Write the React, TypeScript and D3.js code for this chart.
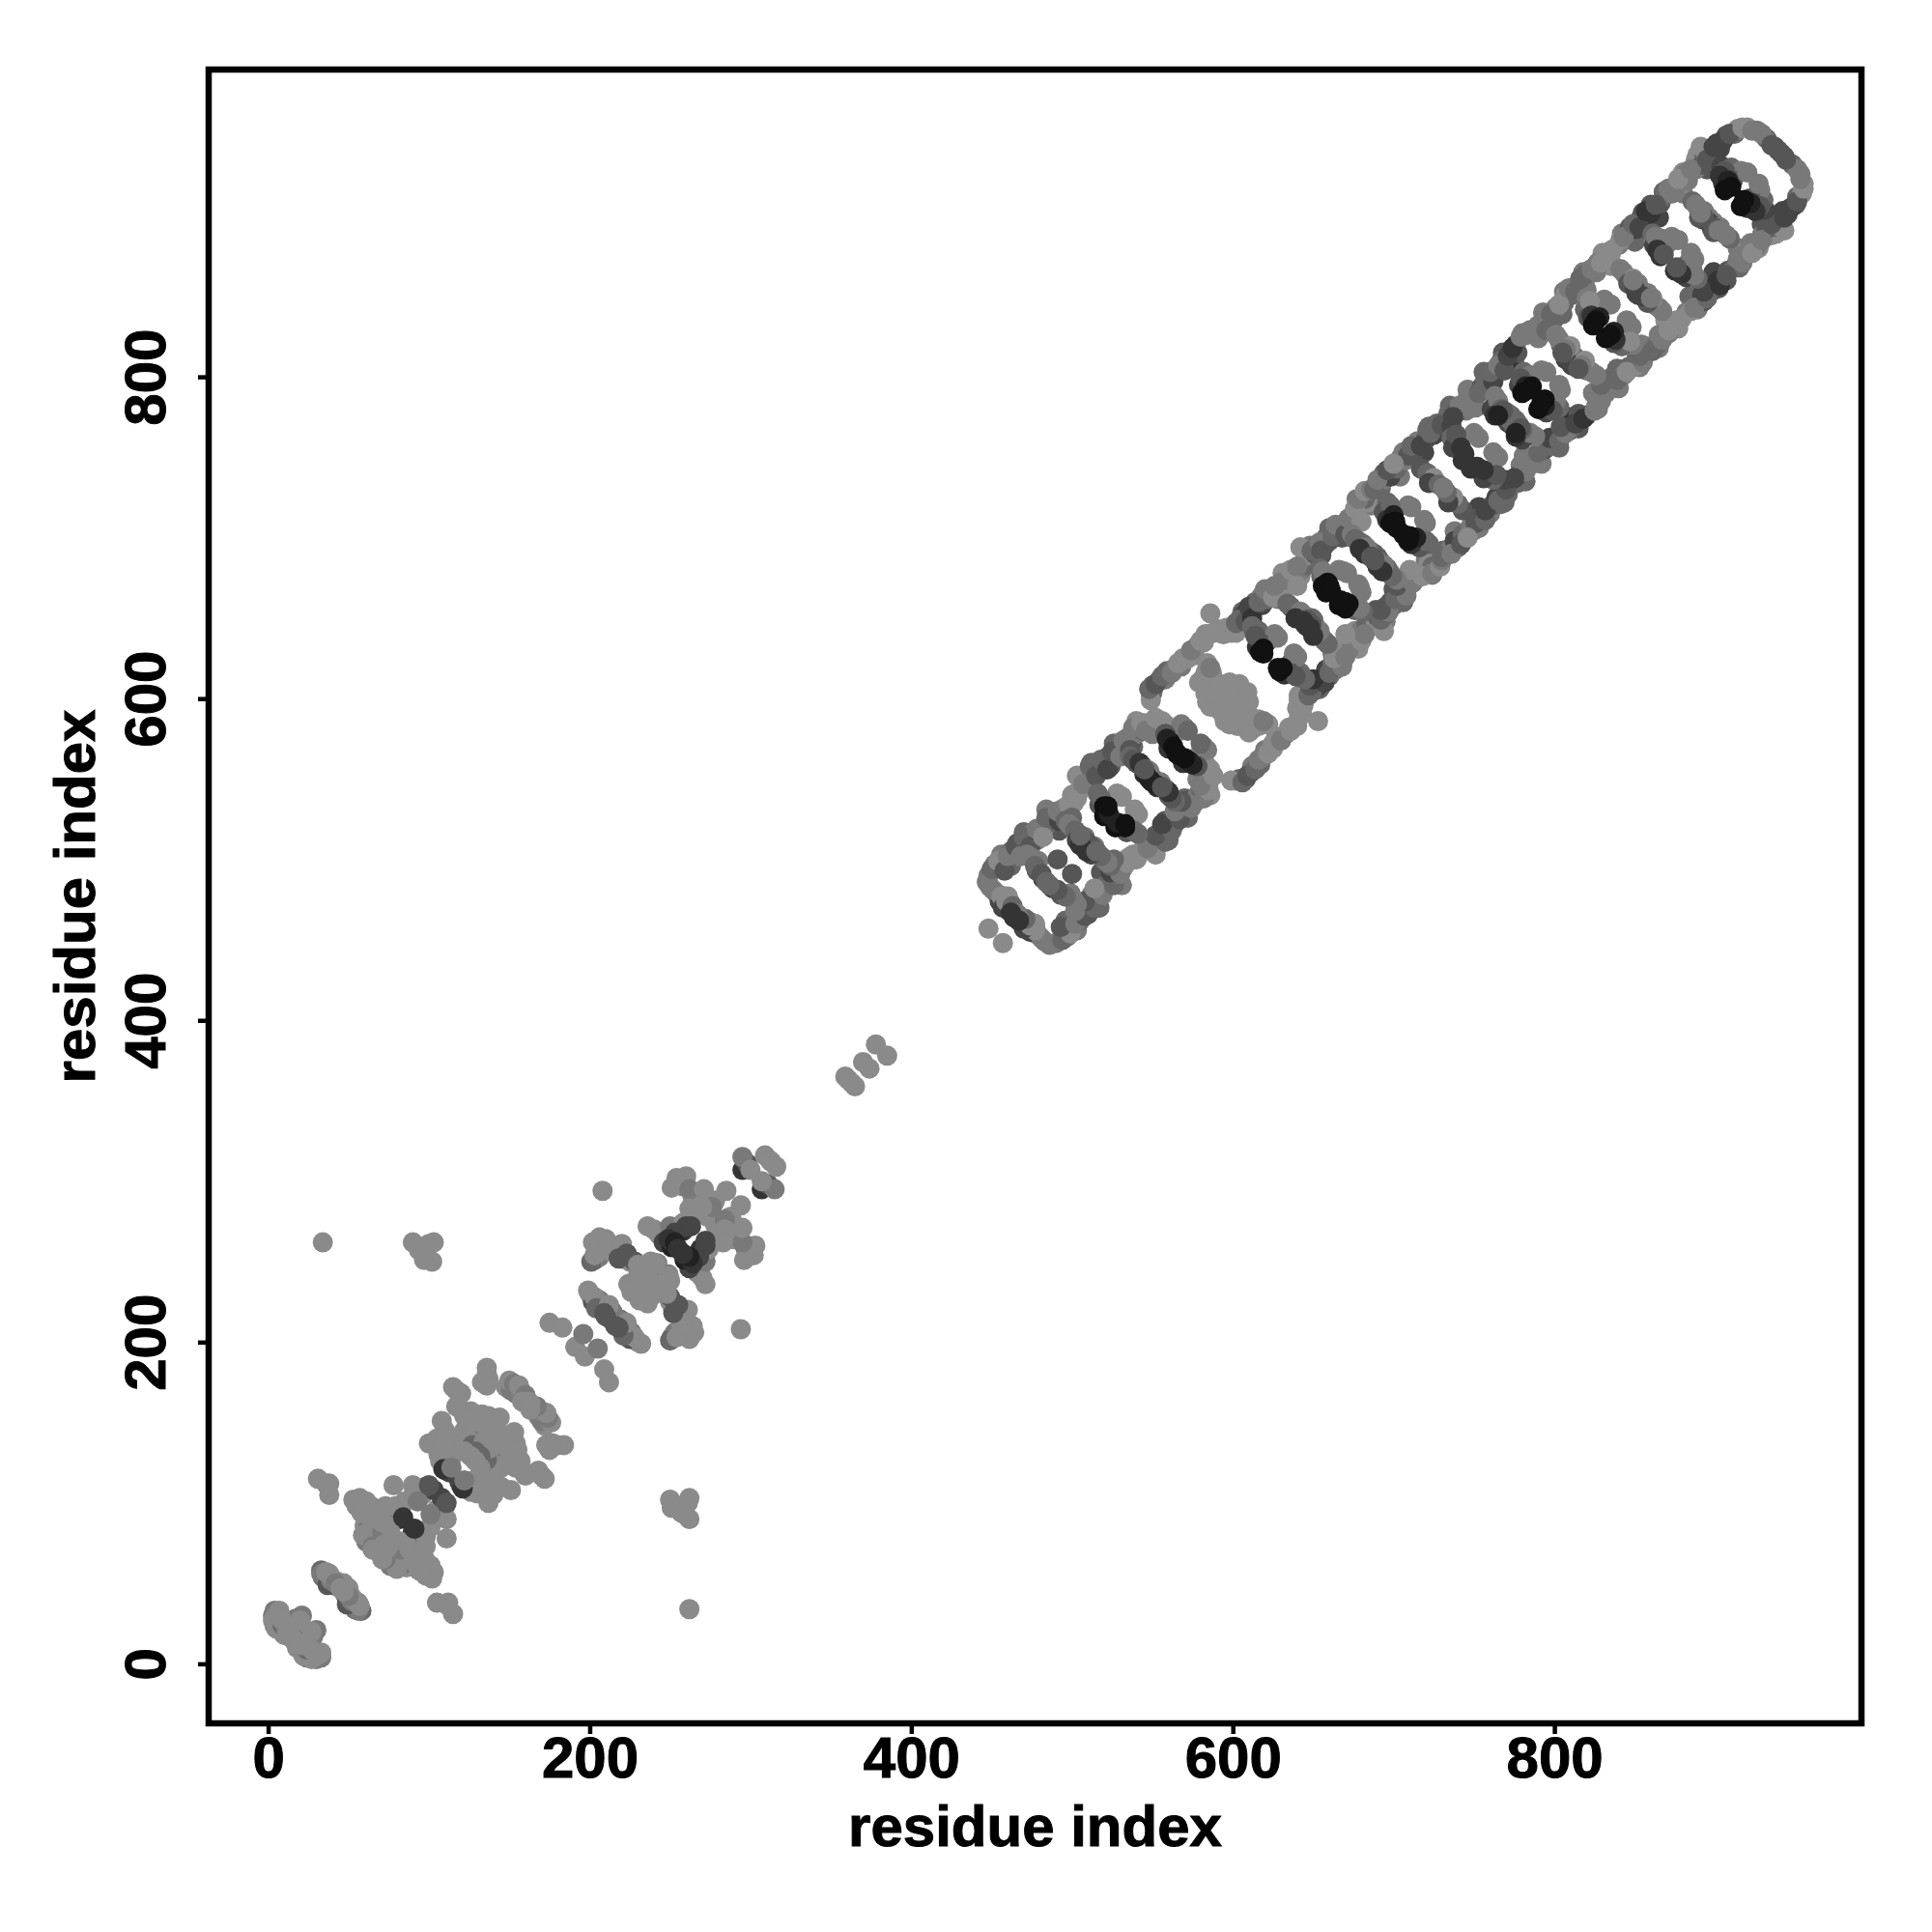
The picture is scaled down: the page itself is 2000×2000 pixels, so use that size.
import { useEffect, useRef } from 'react';
import * as d3 from 'd3';

// contacts as [residue i, residue j, level]; the map is symmetric so only j >= i is listed
type Contact = [number, number, number];

const xTicks = [0, 200, 400, 600, 800];
const yTicks = [0, 200, 400, 600, 800];
const axisTitle = 'residue index';

const nTerminal: Contact[] = [
  [6, 30, 1], [4, 24, 2], [7, 22, 3], [9, 20, 4], [10, 18, 1], [13, 17, 1], [17, 28, 2], [18, 24, 1], [16, 21, 1], [3, 30, 2],
  [35, 55, 2], [38, 52, 4], [34, 54, 3], [41, 49, 2], [43, 51, 1], [43, 48, 3], [47, 50, 1],
  [4, 33, 2], [7, 33, 1], [5, 30, 1], [3, 27, 1], [6, 25, 1], [5, 22, 1], [9, 24, 3], [11, 22, 2],
  [14, 19, 3], [15, 16, 1], [21, 30, 2], [20, 27, 1], [12, 20, 1], [8, 28, 1],
  [33, 58, 3], [33, 56, 2], [37, 49, 4], [39, 52, 2], [36, 57, 1], [38, 56, 1], [40, 53, 1], [42, 50, 2], [45, 47, 1],
];

const firstDomain: Contact[] = [
  [55, 98, 1], [60, 97, 1], [62, 94, 1], [60, 86, 1], [62, 84, 2], [66, 82, 2], [61, 76, 2], [68, 76, 3], [69, 79, 2],
  [70, 72, 3], [68, 70, 2], [74, 91, 1], [78, 94, 1], [76, 90, 1], [72, 93, 1], [82, 96, 1], [88, 102, 2], [82, 90, 6],
  [96, 105, 1], [103, 108, 5], [98, 110, 4], [76, 82, 1], [76, 80, 1],
  [53, 102, 1], [57, 103, 1], [61, 101, 1], [64, 98, 1], [58, 94, 1], [64, 90, 1], [59, 80, 1], [63, 80, 1],
  [67, 86, 1], [65, 73, 2], [65, 71, 1], [71, 82, 2], [71, 88, 1], [72, 74, 1], [75, 86, 1], [75, 76, 1],
  [73, 98, 1], [79, 98, 1], [78, 111, 1], [90, 111, 1], [85, 101, 1], [93, 101, 2], [100, 111, 4], [84, 91, 6],
  [31, 115, 1], [38, 112, 1], [36, 112, 1], [38, 105, 1],
];

const secondDomain: Contact[] = [
  [110, 145, 1], [105, 140, 1], [112, 133, 1], [106, 130, 1], [110, 124, 3], [113, 125, 4], [118, 134, 1], [120, 140, 1],
  [122, 145, 1], [128, 145, 1], [131, 150, 1], [117, 160, 1], [122, 154, 1], [131, 142, 1], [140, 148, 1], [143, 144, 1],
  [128, 132, 3], [130, 138, 2], [136, 140, 1], [148, 172, 1], [151, 170, 2], [154, 168, 2], [157, 170, 1], [158, 165, 2],
  [133, 175, 1], [137, 177, 1], [117, 170, 1], [128, 155, 1], [133, 155, 1], [139, 135, 1], [124, 133, 4], [129, 127, 3],
  [136, 184, 1], [136, 180, 1], [135, 176, 1], [136, 173, 1], [115, 172, 1], [120, 168, 1], [120, 158, 1], [126, 157, 1],
  [127, 152, 1], [137, 154, 1], [144, 153, 1], [137, 146, 1], [150, 176, 1], [153, 174, 2], [156, 173, 1], [160, 167, 2],
  [158, 163, 1], [162, 163, 1], [108, 151, 1], [111, 142, 1], [100, 137, 1], [109, 136, 1], [114, 128, 1], [107, 126, 1],
  [111, 120, 6], [113, 119, 5], [109, 121, 6], [114, 122, 2], [122, 137, 1], [124, 140, 1], [127, 136, 3], [134, 138, 1],
  [132, 129, 3], [122, 132, 1], [126, 129, 1],
];

const thirdDomain: Contact[] = [
  [200, 230, 1], [202, 225, 4], [206, 226, 2], [207, 220, 4], [205, 222, 4], [214, 219, 3], [212, 215, 5], [218, 214, 2],
  [202, 262, 1], [203, 251, 3], [206, 253, 2], [208, 258, 1], [214, 257, 2], [217, 255, 4], [220, 252, 5], [225, 250, 1],
  [232, 245, 1], [236, 243, 1], [240, 245, 1], [224, 236, 1], [229, 234, 1], [233, 230, 1], [236, 228, 1], [241, 238, 1], [246, 230, 1],
  [256, 299, 1], [253, 298, 1], [258, 297, 2], [264, 290, 1], [268, 288, 1], [272, 290, 1], [278, 288, 1], [277, 286, 1],
  [273, 278, 1], [266, 280, 1], [240, 270, 1], [246, 268, 2],
  [175, 212, 1], [183, 209, 1], [191, 197, 1], [196, 205, 2], [199, 232, 1], [203, 228, 1], [204, 221, 3], [212, 223, 1],
  [209, 218, 4], [216, 210, 4], [206, 265, 1], [210, 264, 1], [201, 250, 3], [203, 254, 1], [211, 257, 1], [220, 261, 1],
  [223, 255, 4], [218, 252, 4], [228, 250, 4], [230, 248, 1], [238, 250, 1], [242, 249, 2], [249, 241, 1], [228, 238, 1],
  [226, 232, 1], [231, 226, 1], [238, 232, 1], [245, 234, 1], [208, 294, 1],
  [254, 302, 1], [260, 303, 1], [251, 296, 1], [262, 295, 2], [271, 295, 1], [276, 284, 2], [285, 294, 1], [270, 284, 1],
  [262, 283, 1], [236, 272, 1], [243, 267, 1], [250, 272, 2], [258, 274, 1],
  [246, 262, 5], [251, 259, 7], [258, 269, 6], [260, 272, 5], [253, 268, 5], [249, 264, 6], [253, 262, 7], [263, 272, 5],
  [255, 258, 6], [295, 307, 6], [298, 311, 4], [295, 315, 2], [300, 307, 1], [309, 316, 1], [312, 313, 1],
  [34, 262, 1], [90, 262, 1], [93, 259, 1], [94, 257, 1], [100, 261, 1], [103, 262, 1], [98, 255, 1], [97, 251, 1], [102, 250, 1],
  [359, 365, 1], [361, 363, 1], [370, 374, 1], [378, 385, 1],
];

// outer and inner edges of the two long rails
const railEdges: Contact[] = [
  [456, 503, 2], [470, 517, 3], [484, 531, 2], [500, 540, 1], [512, 560, 3], [526, 572, 3], [540, 586, 1],
  [462, 496, 3], [478, 512, 2], [492, 518, 4], [510, 546, 3], [524, 558, 4], [538, 570, 3], [550, 578, 2],
  [606, 654, 3], [620, 667, 2], [631, 678, 1], [648, 695, 2], [660, 706, 3], [677, 724, 2], [694, 740, 3], [706, 753, 2],
  [722, 769, 3], [735, 782, 3], [746, 792, 2], [756, 803, 3], [768, 815, 4], [780, 827, 2], [793, 840, 2], [806, 853, 2],
  [818, 865, 2], [830, 877, 1], [842, 889, 2], [855, 902, 4], [868, 915, 3], [880, 927, 1], [888, 935, 1],
  [612, 646, 4], [628, 662, 2], [642, 676, 1], [655, 689, 4], [672, 706, 3], [686, 720, 2], [704, 738, 2], [719, 753, 5],
  [732, 766, 5], [745, 779, 2], [760, 794, 5], [775, 809, 4], [790, 824, 2], [805, 839, 3], [820, 854, 2], [835, 869, 1],
  [850, 884, 3], [865, 899, 5], [880, 914, 2], [895, 929, 4],
];

const railLower: Contact[] = [
  [448, 490, 2], [452, 497, 2], [456, 496, 3], [458, 500, 1], [462, 505, 3], [464, 503, 4], [466, 510, 4], [468, 507, 5],
  [472, 510, 3], [475, 516, 2], [476, 513, 2], [480, 517, 1], [483, 520, 2], [486, 523, 3], [488, 528, 2], [490, 526, 4],
  [494, 527, 4], [495, 532, 1], [497, 529, 3], [501, 535, 1], [503, 538, 1], [505, 543, 1], [506, 549, 2], [509, 551, 3],
  [510, 554, 2], [513, 555, 4], [514, 559, 3], [517, 558, 5], [520, 560, 4], [521, 563, 4], [523, 561, 5], [527, 563, 3],
  [528, 568, 3], [531, 567, 3], [534, 571, 3], [535, 576, 2], [537, 573, 4], [540, 578, 2], [541, 583, 1], [544, 580, 3],
  [548, 585, 1], [550, 583, 2], [554, 583, 1], [558, 584, 1],
  [449, 483, 2], [453, 479, 2], [455, 474, 5], [458, 477, 3], [461, 474, 3], [461, 468, 5], [464, 468, 4], [464, 464, 6],
  [448, 457, 1], [447, 486, 2], [451, 481, 2], [456, 477, 1], [457, 470, 5], [459, 474, 1], [460, 477, 1], [463, 471, 3],
  [466, 466, 2], [467, 462, 6],
  [450, 494, 3], [454, 499, 1], [458, 493, 4], [460, 502, 2], [465, 508, 4], [468, 502, 2], [470, 514, 3], [474, 508, 4],
  [478, 519, 2], [482, 514, 1], [484, 526, 3], [492, 524, 5], [491, 530, 2], [498, 534, 1], [500, 526, 3], [502, 541, 1],
  [503, 552, 1], [507, 547, 2], [511, 558, 3], [515, 552, 4], [518, 562, 3], [522, 556, 5], [525, 567, 4], [530, 564, 2],
  [532, 574, 2], [536, 568, 4], [538, 582, 2], [543, 585, 1], [546, 580, 2], [552, 588, 1], [556, 586, 1], [560, 582, 1], [564, 578, 1],
];

const rungsLower: Contact[] = [
  [472, 503, 2], [476, 499, 3], [479, 499, 2], [478, 493, 4], [482, 488, 5],
  [475, 501, 2], [477, 496, 3], [481, 491, 4], [484, 486, 3], [491, 500, 4],
  [496, 524, 3], [500, 520, 2], [504, 516, 3], [506, 511, 5], [508, 514, 2], [510, 506, 6], [507, 508, 5], [513, 507, 4], [512, 505, 5],
  [498, 522, 2], [502, 518, 3], [505, 515, 2], [503, 512, 5], [511, 509, 4], [509, 505, 6], [515, 505, 3],
  [517, 534, 4], [516, 541, 3], [528, 541, 1], [518, 538, 3], [531, 539, 1],
  [522, 531, 8], [520, 527, 8], [520, 533, 8], [521, 529, 8], [523, 528, 7], [522, 533, 8],
  [536, 564, 3], [540, 560, 4], [544, 558, 3], [545, 553, 6], [548, 554, 3], [550, 548, 6], [552, 549, 3], [555, 548, 2],
  [538, 562, 4], [542, 560, 6], [546, 556, 2], [549, 549, 7], [553, 546, 7], [556, 545, 4],
  [570, 582, 3], [568, 584, 2], [572, 580, 3], [558, 578, 4], [560, 569, 6], [561, 573, 8], [559, 575, 7], [563, 570, 8], [565, 566, 8],
];

const hinge: Contact[] = [
  [549, 602, 1], [550, 604, 3], [550, 608, 4], [554, 611, 4], [558, 612, 2], [559, 617, 3], [564, 619, 2], [568, 620, 2],
  [569, 625, 1], [576, 627, 2], [578, 633, 1], [582, 635, 1], [583, 640, 1], [588, 641, 1], [591, 643, 1], [594, 640, 1],
  [599, 641, 1], [579, 610, 1], [585, 612, 2], [587, 616, 1], [584, 622, 1],
  [583, 603, 1], [588, 598, 1], [592, 602, 1], [590, 610, 1], [600, 603, 1], [597, 600, 1], [590, 594, 1], [595, 594, 1],
  [604, 609, 1], [598, 610, 1],
  [549, 599, 1], [548, 606, 3], [552, 609, 4], [556, 614, 3], [562, 616, 2], [566, 622, 1], [572, 625, 1], [574, 630, 2],
  [580, 636, 1], [585, 640, 1], [596, 644, 1], [602, 641, 1], [586, 653, 1], [581, 612, 1], [583, 616, 1], [586, 619, 2],
  [586, 602, 1], [591, 606, 1], [598, 608, 1], [586, 595, 1], [584, 598, 1], [594, 598, 1], [596, 604, 1], [589, 603, 1],
];

const railUpper: Contact[] = [
  [602, 647, 3], [606, 652, 4], [608, 653, 5], [611, 654, 6], [613, 656, 4], [614, 660, 3], [618, 658, 5], [618, 664, 2],
  [622, 662, 3], [623, 668, 1], [628, 666, 2], [630, 672, 2], [632, 669, 1], [636, 674, 2], [638, 677, 1], [638, 672, 1],
  [643, 680, 2], [645, 686, 2], [646, 683, 3], [647, 689, 1], [651, 690, 4], [652, 695, 3], [657, 695, 4], [658, 700, 3],
  [660, 698, 4], [664, 702, 5], [667, 706, 3], [668, 700, 4], [674, 708, 3], [675, 713, 2], [678, 715, 2], [684, 722, 1],
  [682, 724, 3], [692, 731, 3], [694, 736, 2], [698, 738, 5], [702, 743, 3], [704, 749, 2], [707, 748, 2], [709, 751, 4],
  [713, 754, 4], [715, 760, 2], [720, 761, 4], [721, 767, 3], [725, 764, 5], [727, 771, 3], [733, 770, 5], [734, 777, 3],
  [739, 778, 4], [741, 782, 2], [743, 781, 2], [748, 787, 2], [750, 785, 3], [755, 794, 4], [758, 795, 5], [757, 798, 3],
  [763, 801, 5], [767, 810, 3], [769, 808, 5], [773, 811, 6], [776, 820, 4], [777, 815, 4], [782, 826, 2], [788, 826, 2],
  [790, 832, 2], [794, 836, 2], [800, 836, 3], [801, 843, 2], [806, 846, 3], [807, 851, 1], [811, 851, 3], [815, 857, 2],
  [819, 857, 2], [820, 864, 3], [826, 865, 2], [827, 871, 2], [832, 875, 1], [835, 876, 1], [840, 882, 2], [841, 885, 1],
  [846, 889, 3], [847, 893, 4], [851, 892, 5], [854, 899, 4], [855, 896, 6], [860, 902, 6], [860, 907, 4], [866, 908, 4],
  [868, 912, 3], [873, 914, 2], [879, 920, 1], [881, 926, 2], [883, 922, 2], [888, 929, 2], [889, 938, 1], [892, 932, 4],
  [893, 939, 3], [897, 940, 5], [901, 945, 5], [903, 942, 5], [907, 950, 4], [912, 951, 3], [914, 954, 1], [920, 955, 1],
  [926, 953, 2], [932, 948, 3], [937, 943, 4],
  [604, 649, 3], [608, 648, 4], [610, 657, 5], [612, 650, 6], [616, 660, 3], [620, 668, 2], [625, 663, 1], [626, 670, 2],
  [634, 674, 2], [636, 680, 1], [640, 682, 2], [640, 670, 1], [642, 694, 1], [649, 692, 3], [654, 697, 2], [655, 692, 4],
  [662, 701, 3], [664, 708, 2], [670, 702, 4], [672, 712, 2], [676, 718, 1], [678, 724, 2], [680, 710, 1], [682, 729, 1],
  [686, 730, 2], [688, 730, 3], [690, 736, 2], [696, 742, 4], [700, 746, 1],
  [711, 757, 3], [717, 757, 5], [723, 765, 3], [730, 770, 4], [737, 775, 5], [736, 769, 5], [745, 785, 2], [751, 781, 2],
  [753, 790, 3], [762, 797, 5], [760, 803, 3], [765, 807, 2], [769, 804, 4], [771, 813, 5], [774, 818, 6], [779, 825, 2],
  [785, 829, 2], [792, 833, 2], [795, 829, 3], [798, 839, 3], [803, 845, 1], [809, 855, 2], [813, 853, 3], [816, 861, 3],
  [823, 867, 2], [829, 871, 1], [833, 873, 1], [836, 879, 1], [843, 887, 2], [849, 895, 3], [853, 893, 5], [857, 903, 6],
  [863, 907, 4], [871, 917, 2], [875, 915, 2], [877, 923, 1], [885, 929, 2], [891, 943, 1], [895, 935, 4], [899, 943, 5],
  [905, 947, 5], [909, 951, 4], [917, 955, 1], [923, 953, 2], [929, 951, 2], [935, 944, 4], [939, 941, 4],
];

const rungsUpper: Contact[] = [
  [612, 645, 3], [616, 642, 3], [616, 636, 4], [615, 632, 6], [622, 636, 3], [626, 640, 2],
  [613, 642, 3], [614, 639, 4], [618, 634, 4], [628, 638, 2], [617, 629, 8], [619, 631, 8], [619, 628, 8],
  [634, 659, 3], [638, 655, 3], [640, 652, 5], [644, 651, 3], [646, 649, 5], [646, 645, 6], [650, 649, 3], [652, 644, 3],
  [636, 657, 3], [642, 654, 2], [639, 650, 6], [649, 646, 4], [648, 644, 6],
  [654, 681, 3], [655, 676, 3], [658, 675, 4], [666, 680, 2], [671, 678, 2], [656, 679, 2], [669, 679, 2],
  [659, 672, 8], [656, 670, 8], [660, 670, 8], [658, 666, 8], [661, 667, 8],
  [674, 702, 2], [678, 698, 2], [681, 696, 3], [684, 692, 5], [682, 690, 6], [688, 690, 3], [690, 687, 4], [692, 685, 3],
  [676, 699, 3], [683, 694, 2], [679, 693, 6], [686, 688, 7], [688, 686, 4],
  [696, 722, 3], [694, 716, 4], [698, 714, 5], [709, 720, 2], [698, 720, 3], [711, 719, 2], [696, 711, 6],
  [700, 714, 7], [698, 709, 8], [701, 710, 8], [702, 706, 8],
  [717, 743, 4], [721, 740, 3], [725, 737, 1], [722, 734, 5], [728, 733, 3], [731, 731, 2],
  [741, 760, 4], [736, 762, 3], [750, 765, 2], [737, 756, 5], [739, 764, 4], [753, 762, 2], [742, 756, 6], [743, 748, 6], [744, 752, 6],
  [763, 788, 2], [764, 782, 3], [768, 778, 4], [771, 776, 3], [771, 772, 5], [776, 773, 3], [778, 770, 3], [781, 766, 3], [761, 780, 5],
  [765, 785, 2], [767, 780, 3], [763, 776, 6], [774, 771, 3], [779, 768, 4], [776, 765, 7],
  [781, 803, 3], [778, 795, 5], [792, 804, 2], [783, 798, 5], [785, 801, 2], [795, 803, 2], [779, 799, 4],
  [782, 794, 7], [780, 790, 8], [786, 794, 8], [784, 792, 8],
  [801, 826, 2], [804, 820, 3], [808, 817, 3], [807, 812, 5], [812, 813, 3], [814, 808, 3], [811, 807, 5], [819, 806, 2],
  [803, 823, 2], [810, 819, 1], [806, 815, 4], [817, 807, 2], [815, 805, 4],
  [820, 849, 2], [827, 846, 1], [819, 842, 3], [831, 848, 2], [822, 847, 1], [835, 845, 2], [821, 837, 4],
  [823, 838, 6], [828, 837, 7], [824, 832, 8], [826, 835, 8],
  [841, 867, 2], [845, 862, 2], [848, 858, 3], [851, 855, 4], [852, 851, 5], [858, 852, 2], [857, 848, 5],
  [843, 865, 2], [849, 861, 1], [846, 858, 4], [855, 850, 5], [860, 849, 2],
  [861, 889, 3], [866, 886, 2], [873, 887, 2], [862, 882, 5], [866, 875, 6], [868, 879, 5], [872, 884, 2],
  [863, 887, 2], [877, 885, 2], [867, 882, 2], [864, 879, 6], [868, 876, 4],
  [886, 909, 3], [890, 904, 2], [892, 898, 4], [896, 899, 2], [897, 895, 5], [903, 893, 2], [900, 891, 3],
  [888, 907, 2], [893, 902, 2], [890, 899, 4], [899, 893, 4], [902, 891, 2],
  [904, 931, 5], [910, 930, 3], [916, 928, 2], [911, 922, 4], [906, 928, 4], [920, 927, 2],
  [903, 925, 6], [905, 920, 6], [908, 922, 7], [906, 916, 8], [910, 918, 8],
];

const contacts: Contact[] = [
  ...nTerminal, ...firstDomain, ...secondDomain, ...thirdDomain,
  ...railEdges, ...railLower, ...rungsLower, ...hinge, ...railUpper, ...rungsUpper,
];

export default function App() {
  const svgRef = useRef<SVGSVGElement>(null);

  useEffect(() => {
    if (!svgRef.current) return;

    const box = { left: 216, right: 1927, top: 72, bottom: 1784 };
    const svg = d3.select(svgRef.current);
    svg.selectAll('*').remove();

    const x = d3.scaleLinear().domain([-37, 991]).range([box.left, box.right]);
    const y = d3.scaleLinear().domain([-37, 991]).range([box.bottom, box.top]);
    const grey = d3.scaleLinear<string>().domain([1, 8]).range(['#8a8a8a', '#111111']);

    const points = contacts.flatMap(([i, j, level]) => [
      { i, j, level },
      { i: j, j: i, level },
    ]);

    svg.append('g')
      .selectAll('circle')
      .data(points)
      .enter()
      .append('circle')
      .attr('cx', d => x(d.i))
      .attr('cy', d => y(d.j))
      .attr('r', 10.5)
      .attr('fill', d => grey(d.level));

    svg.append('rect')
      .attr('x', box.left)
      .attr('y', box.top)
      .attr('width', box.right - box.left)
      .attr('height', box.bottom - box.top)
      .attr('fill', 'none')
      .attr('stroke', '#000')
      .attr('stroke-width', 6.5);

    const font = '"Liberation Sans", Arial, sans-serif';

    const xAxis = svg.append('g')
      .attr('transform', `translate(0,${box.bottom})`)
      .call(d3.axisBottom(x).tickValues(xTicks).tickSize(11).tickFormat(d => `${d}`));
    xAxis.select('.domain').remove();
    xAxis.selectAll('line').attr('stroke', '#000').attr('stroke-width', 4.5);
    xAxis.selectAll('text')
      .attr('y', 56)
      .attr('dy', 0)
      .attr('fill', '#000')
      .attr('stroke', '#000')
      .attr('stroke-width', 1)
      .attr('font-family', font)
      .attr('font-weight', 700)
      .attr('font-size', 60);

    const yAxis = svg.append('g')
      .attr('transform', `translate(${box.left},0)`)
      .call(d3.axisLeft(y).tickValues(yTicks).tickSize(11).tickFormat(d => `${d}`));
    yAxis.select('.domain').remove();
    yAxis.selectAll('line').attr('stroke', '#000').attr('stroke-width', 4.5);
    yAxis.selectAll('text')
      .attr('x', null)
      .attr('dy', null)
      .attr('transform', 'translate(-45,0) rotate(-90)')
      .attr('y', 0)
      .attr('text-anchor', 'middle')
      .attr('fill', '#000')
      .attr('stroke', '#000')
      .attr('stroke-width', 1)
      .attr('font-family', font)
      .attr('font-weight', 700)
      .attr('font-size', 60);

    svg.append('text')
      .attr('x', (box.left + box.right) / 2)
      .attr('y', 1911)
      .attr('text-anchor', 'middle')
      .attr('stroke', '#000')
      .attr('stroke-width', 1)
      .attr('font-family', font)
      .attr('font-weight', 700)
      .attr('font-size', 60)
      .text(axisTitle);

    svg.append('text')
      .attr('transform', `translate(98,${(box.top + box.bottom) / 2}) rotate(-90)`)
      .attr('text-anchor', 'middle')
      .attr('stroke', '#000')
      .attr('stroke-width', 1)
      .attr('font-family', font)
      .attr('font-weight', 700)
      .attr('font-size', 60)
      .text(axisTitle);
  }, []);

  return (
    <svg
      ref={svgRef}
      width={2000}
      height={2000}
      viewBox="0 0 2000 2000"
      style={{ position: 'absolute', left: 0, top: 0, background: '#fff' }}
    />
  );
}
